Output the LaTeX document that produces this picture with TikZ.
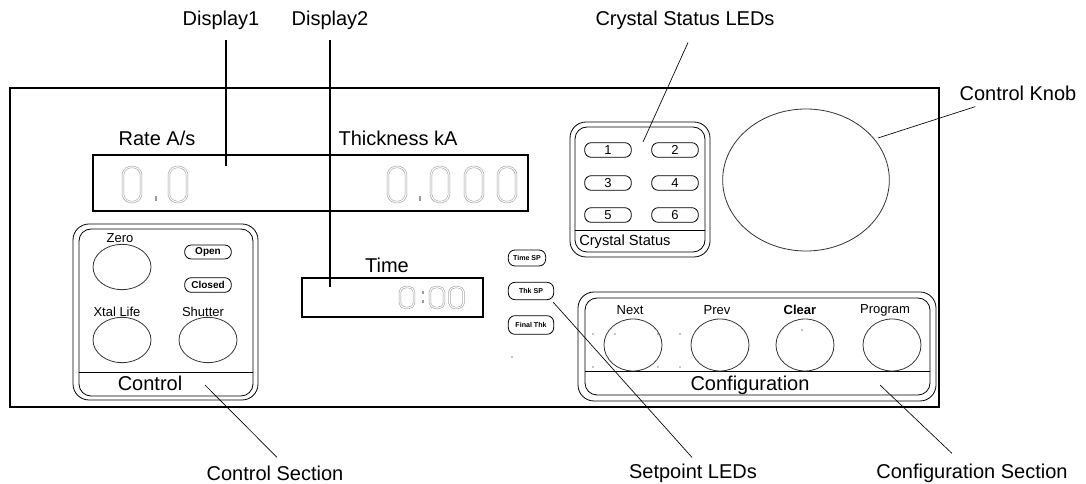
\documentclass[tikz,border=0pt]{standalone}
\usepackage{fontspec}
\setmainfont{Liberation Sans}
\usetikzlibrary{shapes.geometric,positioning,calc}

\begin{document}
\begin{tikzpicture}[x=0.75pt, y=-0.75pt,
  label/.style={font=\fontsize{15}{17}\selectfont, inner sep=0pt},
  keylabel/.style={font=\fontsize{9.75}{11}\selectfont, inner sep=0pt},
  panel/.style={draw, line width=1.1pt},
  readout/.style={draw, line width=0.9pt},
  secbox/.style={draw, line width=0.6pt},
  key/.style={ellipse, draw=black!80, line width=0.6pt, minimum width=43.5pt, minimum height=34pt, inner sep=0pt},
  pill/.style={rectangle, rounded corners=5pt, draw, line width=0.6pt, minimum width=35pt, minimum height=11pt, inner sep=0pt},
  callout/.style={draw, line width=0.5pt},
  digit/.style={draw=gray!75, double=white, double distance=0.8pt, line width=0.45pt, rounded corners=1.5pt},
  segtick/.style={draw=gray!80, line width=1pt},
  zero/.pic={\draw[digit] (-4,-17.5) -- (4,-17.5) -- (9,-12.5) -- (9,12.5) -- (4,17.5) -- (-4,17.5) -- (-9,12.5) -- (-9,-12.5) -- cycle;},
]
\useasboundingbox (0,0) rectangle (1086,484);
\fill[white] (0,0) rectangle (1086,484);

% Front panel
\draw[panel] (10,88) rectangle (939,407);

% Display1: rate and thickness
\node[label] (lblRate) at (157,138) {Rate A/s};
\node[label] (lblThk) at (398,138) {Thickness kA};
\draw[readout] (93,155) rectangle (528,211);
\foreach \x in {132,178,397,440,474,507}
  \pic at (\x,184.5) {zero};
\foreach \x in {156,420}
  \draw[segtick] (\x,196) -- (\x,201);

% Display2: time
\node[label] (lblTime) at (387,265) {Time};
\draw[readout] (302,278) rectangle (483,317);
\foreach \x in {407,437,456.5}
  \pic[xscale=0.78, yscale=0.6] at (\x,297.5) {zero};
\draw[segtick] (423,291) -- (423,294);
\draw[segtick] (423,300) -- (423,303);

% Control section
\draw[secbox, rounded corners=12pt] (73,224) rectangle (258,400);
\draw[secbox, rounded corners=9pt] (79,229) rectangle (253,396);
\draw[secbox] (79,372) -- (253,372);
\node[label] (lblControl) at (150,383) {Control};
\node[keylabel] (lblZero) at (120,238) {Zero};
\node[key] (keyZero) at (122,267) {};
\node[keylabel] (lblXtalLife) at (117,312) {Xtal Life};
\node[key] (keyXtalLife) at (122,340) {};
\node[keylabel] (lblShutter) at (203,312) {Shutter};
\node[key] (keyShutter) at (208,340) {};
\node[pill, minimum height=10.5pt, font=\fontsize{7.5}{8}\selectfont\bfseries] (ledOpen) at (208,252) {Open};
\node[pill, minimum height=11pt, font=\fontsize{7.5}{8}\selectfont\bfseries] (ledClosed) at (208,285) {Closed};

% Setpoint LEDs
\node[pill, minimum width=28pt, minimum height=12pt, font=\fontsize{5.3}{6}\selectfont\bfseries] (ledTimeSP) at (527,258) {Time SP};
\node[pill, minimum width=34pt, minimum height=13pt, font=\fontsize{5.3}{6}\selectfont\bfseries] (ledThkSP) at (531,291) {Thk SP};
\node[pill, minimum width=34pt, minimum height=14pt, font=\fontsize{5.3}{6}\selectfont\bfseries] (ledFinalThk) at (531,325) {Final Thk};
\fill (512,357) circle (0.7);

% Crystal status
\draw[secbox, rounded corners=12pt] (570,122) rectangle (710,257);
\draw[secbox, rounded corners=9pt] (575,127) rectangle (705,252);
\draw[secbox] (575,230) -- (705,230);
\node[font=\fontsize{11}{13}\selectfont, inner sep=0pt, anchor=west] (lblXtalStatus) at (579,242) {Crystal Status};
\foreach \n/\x/\y in {1/608/150, 2/675/150, 3/608/183, 4/675/183, 5/608/215, 6/675/215}
  \node[pill, minimum width=35pt, font=\fontsize{9.75}{11}\selectfont] (ledXtal\n) at (\x,\y) {\n};

% Control knob
\node[ellipse, draw=black!80, line width=0.6pt, minimum width=125pt, minimum height=106.5pt] (knob) at (806,180) {};

% Configuration section
\draw[secbox, rounded corners=12pt] (578,292) rectangle (936,401);
\draw[secbox, rounded corners=9pt] (585,298) rectangle (930,395);
\draw[secbox] (585,371) -- (930,371);
\node[label] (lblConfig) at (750,385) {Configuration};
\foreach \name/\x/\lx in {Next/633/630, Prev/720/717, Clear/805/800, Program/892/885}
  \node[key, minimum height=39pt] (key\name) at (\x,345) {};
\node[keylabel] (lblNext) at (630,310) {Next};
\node[keylabel] (lblPrev) at (717,310) {Prev};
\node[keylabel, font=\fontsize{9.75}{11}\selectfont\bfseries] (lblClear) at (800,310) {Clear};
\node[keylabel] (lblProgram) at (885,310) {Program};
\foreach \x/\y in {593/334, 593/367, 615/334, 658/334, 658/367, 680/334, 680/367, 802/330}
  \fill (\x,\y) circle (0.6);

% Callouts
\node[label] (lblDisp1) at (221,20) {Display1};
\node[label] (lblDisp2) at (330,20) {Display2};
\node[label] (lblXtalLeds) at (685,20) {Crystal Status LEDs};
\node[label] (lblKnob) at (1018,93) {Control Knob};
\node[label] (lblCtrlSec) at (275,473) {Control Section};
\node[label] (lblSetpoint) at (693,473) {Setpoint LEDs};
\node[label] (lblConfigSec) at (972,473) {Configuration Section};

\coordinate (tipDisp1) at (226,166);
\coordinate (tipDisp2) at (330,287);
\coordinate (tipXtal) at (643,142);
\coordinate (tipKnob) at (878,138);
\coordinate (tipCtrl) at (205,385);
\coordinate (tipSetpoint) at (553,302);
\coordinate (tipConfig) at (880,385);

\draw[callout, line width=0.8pt] (lblDisp1.south -| tipDisp1) ++(0,10) -- (tipDisp1);
\draw[callout, line width=0.8pt] (lblDisp2.south) ++(0,10) -- (tipDisp2);
\draw[callout] (lblXtalLeds.south) ++(3,13) -- (tipXtal);
\draw[callout] (lblKnob.south west) ++(16,6) -- (tipKnob);
\draw[callout] (tipCtrl) -- ($(lblCtrlSec.north)+(2,-8)$);
\draw[callout] (tipSetpoint) -- ($(lblSetpoint.north)+(-1,-6)$);
\draw[callout] (tipConfig) -- ($(lblConfigSec.north)+(-20,-10)$);

\end{tikzpicture}
\end{document}
